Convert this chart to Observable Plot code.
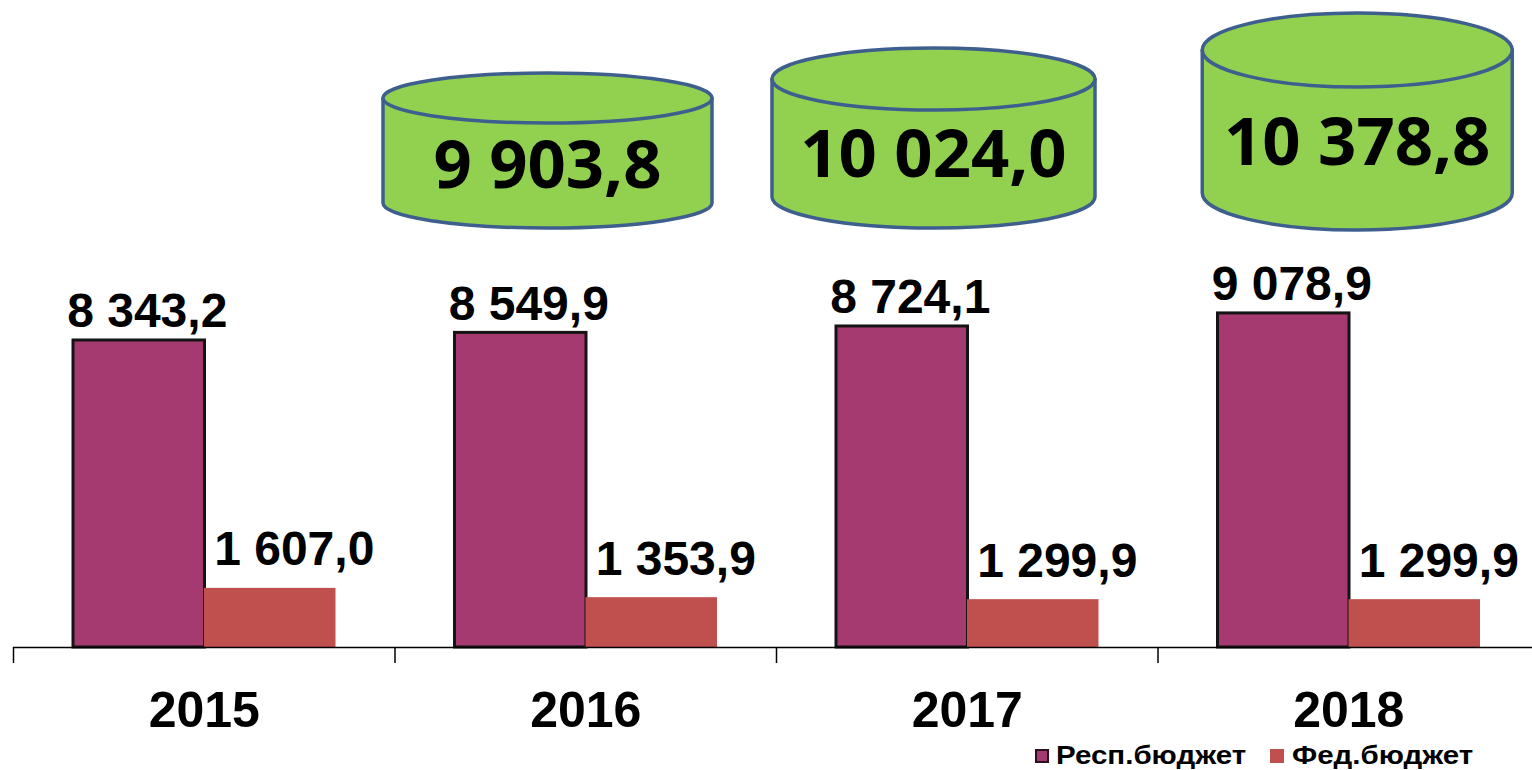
<!DOCTYPE html>
<html>
<head>
<meta charset="utf-8">
<script src="https://cdn.jsdelivr.net/npm/d3@7"></script>
<script src="https://cdn.jsdelivr.net/npm/@observablehq/plot@0.6"></script>
<style>
  body { margin: 0; background: #fff; font-family: "Liberation Sans", Arial, sans-serif; }
  #chart svg { display: block; overflow: visible; }
  .legend { position: relative; width: 1532px; height: 30px; font: bold 25px "Liberation Sans", Arial, sans-serif; color: #000; }
  .legend .sw { position: absolute; top: 9px; width: 14px; height: 14px; box-sizing: border-box; }
  .legend .lb { position: absolute; top: 1px; line-height: 28px; white-space: nowrap; transform-origin: 0 50%; transform: scaleX(1.18); }
</style>
</head>
<body>
<div id="chart"></div>
<div class="legend" id="legend"></div>
<script>
// ---- data ----
const years = ["2015", "2016", "2017", "2018"];
const respValues = [8343.2, 8549.9, 8724.1, 9078.9];
const fedValues = [1607.0, 1353.9, 1299.9, 1299.9];
const seriesNames = ["Респ.бюджет", "Фед.бюджет"];
const totalYears = ["2016", "2017", "2018"];
const totalValues = [9903.8, 10024.0, 10378.8];

// ---- style / layout ----
const W = 1532, H = 740;
const baseY = 647;             // pixel of zero line
const yMax = 17583;            // y domain top (px scale ~0.0368 px per unit)
const pxPerUnit = baseY / yMax;
const xRange = [13, 1539];
const bw = (xRange[1] - xRange[0]) / years.length;
const respColor = "#a53a70", fedColor = "#c0504d";
const cylFill = "#92d050", cylStroke = "#3e5f8e";
const cylLayout = [
  {dx: -37.75, rx: 164.5, top: 98, ry: 25, bottom: 203, textY: 164},
  {dx: -33.25, rx: 161.5, top: 79, ry: 31, bottom: 197, textY: 153},
  {dx: 9, rx: 155, top: 50, ry: 37, bottom: 193, textY: 141}
];

const loc = d3.formatLocale({decimal: ",", thousands: " ", grouping: [3], currency: ["", ""]});
const fmt = loc.format(",.1f");

const resp = years.map((y, i) => ({year: y, value: respValues[i], series: seriesNames[0]}));
const fed = years.map((y, i) => ({year: y, value: fedValues[i], series: seriesNames[1]}));
const totals = totalYears.map((y, i) => ({year: y, value: totalValues[i]}));

const labelFont = {fontFamily: "Liberation Sans, Arial, sans-serif", fontWeight: "bold", fill: "#000"};

// custom cylinder mark (positions from x scale)
function cylinders(index, scales) {
  const x = scales.x;
  const b = typeof x.bandwidth === "function" ? x.bandwidth() : bw;
  const g = d3.create("svg:g");
  totals.forEach((d, i) => {
    const L = cylLayout[i];
    const cx = x(d.year) + b / 2 + L.dx;
    const l = cx - L.rx, r = cx + L.rx;
    g.append("path")
      .attr("d", `M${l},${L.top} L${l},${L.bottom} A${L.rx},${L.ry} 0 0 0 ${r},${L.bottom} L${r},${L.top} Z`)
      .attr("fill", cylFill).attr("stroke", cylStroke).attr("stroke-width", 3.5).attr("stroke-linejoin", "round");
    g.append("ellipse")
      .attr("cx", cx).attr("cy", L.top).attr("rx", L.rx).attr("ry", L.ry)
      .attr("fill", cylFill).attr("stroke", cylStroke).attr("stroke-width", 3.5);
    g.append("text")
      .attr("x", cx).attr("y", L.textY).attr("dy", "0.36em")
      .attr("text-anchor", "middle")
      .attr("font-family", "Open Sans, sans-serif").attr("font-weight", 700)
      .attr("font-size", 67).attr("fill", "#000")
      .text(fmt(d.value));
  });
  return g.node();
}

const chart = Plot.plot({
  width: W,
  height: H,
  marginTop: 0,
  marginBottom: H - baseY,
  marginLeft: xRange[0],
  marginRight: 0,
  x: {domain: years, range: xRange, padding: 0, round: false, axis: null},
  y: {domain: [0, yMax], axis: null},
  marks: [
    Plot.barY(resp, {x: "year", y: "value", fill: respColor, stroke: "#141414", strokeWidth: 3, insetLeft: 60, insetRight: 190}),
    Plot.barY(fed, {x: "year", y: "value", fill: fedColor, insetLeft: 191, insetRight: 59}),
    Plot.ruleY([0], {stroke: "#000", strokeWidth: 1.5}),
    Plot.ruleX(years, {x: d => d, y1: 0, y2: -16 / pxPerUnit, dx: -bw / 2, stroke: "#000", strokeWidth: 1.5}),
    Plot.text(resp, {x: "year", y: "value", text: d => fmt(d.value), dx: -57, dy: -13, lineAnchor: "bottom", fontSize: 48, ...labelFont}),
    Plot.text(fed, {x: "year", y: "value", text: d => fmt(d.value), dx: 90, dy: -23, lineAnchor: "bottom", fontSize: 48, ...labelFont}),
    Plot.text(years, {x: d => d, y: d => 0, text: d => d, dy: 63, lineAnchor: "middle", fontSize: 50, ...labelFont}),
    cylinders
  ]
});
document.getElementById("chart").appendChild(chart);

// legend
const legend = document.getElementById("legend");
const items = [
  {name: seriesNames[0], color: respColor, border: "2px solid #2a1020", sw: 1035, lb: 1056},
  {name: seriesNames[1], color: fedColor, border: "none", sw: 1270, lb: 1292}
];
items.forEach(it => {
  const s = document.createElement("div");
  s.className = "sw"; s.style.left = it.sw + "px"; s.style.background = it.color; s.style.border = it.border;
  const t = document.createElement("div");
  t.className = "lb"; t.style.left = it.lb + "px"; t.textContent = it.name;
  legend.appendChild(s); legend.appendChild(t);
});
</script>
</body>
</html>
